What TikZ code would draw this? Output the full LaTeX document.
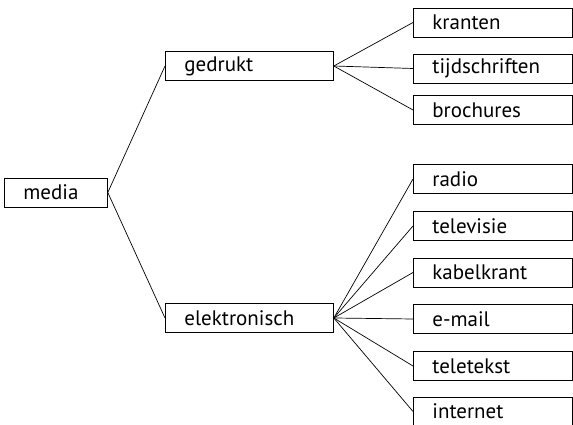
\documentclass[tikz,border=0pt]{standalone}
\usepackage{fontspec}
\setmainfont{PT Sans}
\tikzset{
  box/.style={draw, line width=0.8pt, anchor=west, minimum height=29pt,
    inner xsep=19pt, inner ysep=0pt, align=left, font=\fontsize{21}{23}\selectfont},
  link/.style={line width=0.7pt}
}
\begin{document}
\begin{tikzpicture}[x=1pt,y=1pt]
\useasboundingbox (0,0) rectangle (573,425);

\node[box, text width=65pt] (media) at (4,232.5) {media};
\node[box, text width=130pt] (gedrukt) at (165,359) {gedrukt};
\node[box, text width=130pt] (elektronisch) at (165,107) {elektronisch};
\node[box, text width=121pt] (kranten) at (413,402.5) {kranten};
\node[box, text width=121pt] (tijdschriften) at (413,356.5) {tijdschriften};
\node[box, text width=121pt] (brochures) at (413,315) {brochures};
\node[box, text width=121pt] (radio) at (413,246) {radio};
\node[box, text width=121pt] (televisie) at (413,199) {televisie};
\node[box, text width=121pt] (kabelkrant) at (413,152.5) {kabelkrant};
\node[box, text width=121pt] (email) at (413,106) {e-mail};
\node[box, text width=121pt] (teletekst) at (413,59) {teletekst};
\node[box, text width=121pt] (internet) at (413,13.5) {internet};

\draw[link] (media.east) -- (gedrukt.west);
\draw[link] (media.east) -- (elektronisch.west);
\foreach \n in {kranten,tijdschriften,brochures}
  \draw[link] (gedrukt.east) -- (\n.west);
\foreach \n in {radio,televisie,kabelkrant,email,teletekst,internet}
  \draw[link] (elektronisch.east) -- (\n.west);
\end{tikzpicture}
\end{document}
